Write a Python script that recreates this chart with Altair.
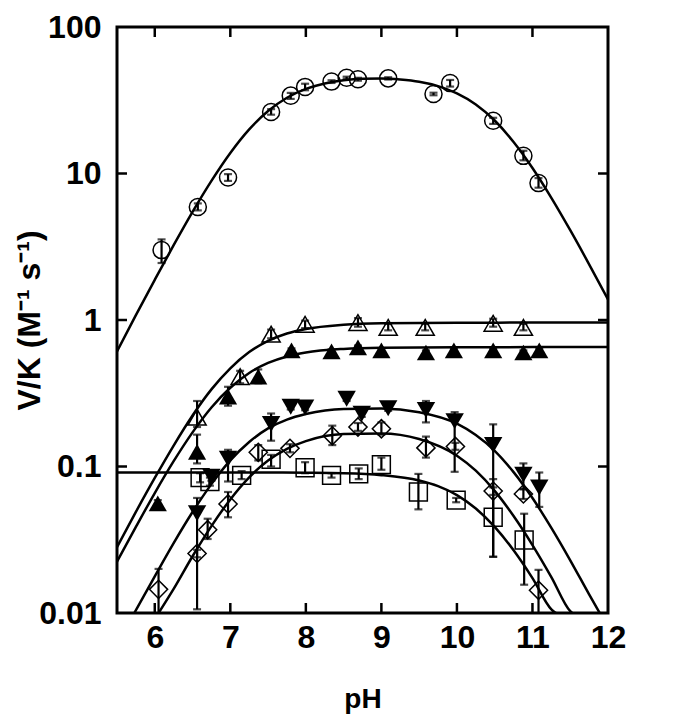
import altair as alt
import pandas as pd

# ---------------- data ----------------
# open circles
circ_ph = [6.09, 6.57, 6.97, 7.54, 7.80, 7.99, 8.34, 8.54, 8.69, 9.09, 9.69, 9.91, 10.48, 10.88, 11.08]
circ_v = [3.0, 5.9, 9.4, 26.3, 34.0, 39.0, 42.4, 45.0, 44.0, 44.6, 34.9, 41.4, 22.9, 13.2, 8.6]
circ_lo = [2.45, 5.6, 8.9, 25.2, 32.3, 37.0, 41.5, 44.2, 43.0, 43.8, 34.2, 39.2, 21.8, 12.3, 8.0]
circ_hi = [3.55, 6.25, 9.9, 27.5, 35.5, 41.0, 43.3, 45.8, 45.0, 45.4, 35.6, 43.5, 24.0, 14.3, 9.3]

# open triangles
otri_ph = [6.56, 7.13, 7.54, 7.99, 8.69, 9.09, 9.58, 10.48, 10.88]
otri_v = [0.217, 0.41, 0.80, 0.935, 0.96, 0.89, 0.89, 0.95, 0.89]
otri_lo = [0.186, 0.37, 0.75, 0.88, 0.90, 0.85, 0.85, 0.90, 0.85]
otri_hi = [0.28, 0.45, 0.86, 0.99, 1.03, 0.94, 0.94, 1.02, 0.94]

# filled triangles
ftri_ph = [6.04, 6.56, 6.97, 7.37, 7.81, 8.34, 8.69, 9.0, 9.59, 9.96, 10.48, 10.88, 11.09]
ftri_v = [0.056, 0.126, 0.30, 0.41, 0.62, 0.61, 0.65, 0.62, 0.60, 0.62, 0.62, 0.60, 0.62]
ftri_lo = [0.053, 0.105, 0.26, 0.37, 0.60, 0.59, 0.63, 0.60, 0.58, 0.60, 0.60, 0.58, 0.60]
ftri_hi = [0.059, 0.165, 0.35, 0.46, 0.64, 0.63, 0.67, 0.64, 0.62, 0.64, 0.64, 0.62, 0.64]

# filled down triangles
dtri_ph = [6.56, 6.75, 6.97, 7.54, 7.80, 7.99, 8.54, 8.74, 9.09, 9.59, 9.97, 10.48, 10.88, 11.09]
dtri_v = [0.048, 0.085, 0.113, 0.195, 0.256, 0.253, 0.29, 0.229, 0.25, 0.243, 0.204, 0.14, 0.088, 0.072]
dtri_lo = [0.0106, 0.08, 0.079, 0.15, 0.245, 0.242, 0.28, 0.218, 0.24, 0.20, 0.092, 0.0242, 0.07, 0.053]
dtri_hi = [0.061, 0.09, 0.13, 0.23, 0.267, 0.264, 0.30, 0.24, 0.26, 0.28, 0.235, 0.194, 0.105, 0.091]

# open diamonds
diam_ph = [6.05, 6.56, 6.70, 6.97, 7.37, 7.79, 8.35, 8.69, 9.0, 9.59, 9.98, 10.48, 10.88, 11.08]
diam_v = [0.0145, 0.0255, 0.037, 0.0555, 0.125, 0.133, 0.162, 0.186, 0.181, 0.134, 0.137, 0.068, 0.065, 0.0143]
diam_lo = [0.0099, 0.024, 0.032, 0.045, 0.11, 0.125, 0.14, 0.175, 0.165, 0.115, 0.13, 0.064, 0.06, 0.0099]
diam_hi = [0.020, 0.027, 0.044, 0.067, 0.14, 0.142, 0.19, 0.198, 0.20, 0.16, 0.145, 0.072, 0.07, 0.0197]

# open squares
sq_ph = [6.60, 6.73, 7.15, 7.54, 7.99, 8.34, 8.70, 9.0, 9.49, 9.99, 10.48, 10.89]
sq_v = [0.084, 0.079, 0.087, 0.112, 0.098, 0.087, 0.089, 0.103, 0.067, 0.059, 0.045, 0.0315]
sq_lo = [0.078, 0.074, 0.082, 0.10, 0.09, 0.084, 0.082, 0.095, 0.051, 0.057, 0.0242, 0.0156]
sq_hi = [0.09, 0.084, 0.093, 0.12, 0.107, 0.09, 0.097, 0.115, 0.089, 0.061, 0.082, 0.0476]

# fitted curves
c_circ_ph = [5.5, 5.75, 6.0, 6.25, 6.5, 6.75, 7.0, 7.25, 7.5, 7.75, 8.0, 8.25, 8.5, 8.75,
             9.0, 9.25, 9.5, 9.75, 10.0, 10.25, 10.5, 10.75, 11.0, 11.25, 11.5, 11.75, 12.0]
c_circ_v = [0.611, 1.08, 1.88, 3.24, 5.47, 8.9, 13.8, 20.0, 26.7, 32.9, 37.8, 41.2, 43.3, 44.3,
            44.5, 43.8, 42.3, 39.5, 35.2, 29.6, 23.0, 16.4, 10.9, 6.82, 4.10, 2.40, 1.38]

c_otri_ph = [5.5, 5.75, 6.0, 6.25, 6.5, 6.75, 7.0, 7.25, 7.5, 7.75, 8.0, 8.5, 9.0, 10.0, 11.0, 12.0]
c_otri_v = [0.0282, 0.049, 0.0835, 0.139, 0.223, 0.336, 0.468, 0.604, 0.721, 0.809, 0.869, 0.929, 0.95, 0.958, 0.96, 0.96]

c_ftri_ph = [5.5, 5.75, 6.0, 6.25, 6.5, 6.75, 7.0, 7.25, 7.5, 7.75, 8.0, 8.5, 9.0, 10.0, 11.0, 12.0]
c_ftri_v = [0.0224, 0.0387, 0.0659, 0.1087, 0.171, 0.253, 0.345, 0.435, 0.509, 0.564, 0.60, 0.635, 0.647, 0.652, 0.653, 0.653]

c_dtri_ph = [5.72, 6.0, 6.25, 6.5, 6.75, 7.0, 7.25, 7.5, 7.75, 8.0, 8.5, 9.0, 9.5, 10.0,
             10.25, 10.5, 10.75, 11.0, 11.25, 11.5, 11.75, 11.9]
c_dtri_v = [0.0098, 0.0178, 0.030, 0.0489, 0.0758, 0.110, 0.147, 0.182, 0.209, 0.228, 0.247, 0.2485, 0.2347, 0.196,
            0.164, 0.128, 0.0915, 0.0609, 0.0381, 0.0229, 0.0134, 0.0098]

c_diam_ph = [6.04, 6.25, 6.5, 6.75, 7.0, 7.25, 7.5, 7.75, 8.0, 8.5, 9.0, 9.5, 10.0, 10.25,
             10.5, 10.75, 11.0, 11.25, 11.5, 11.56]
c_diam_v = [0.0098, 0.0146, 0.0244, 0.0392, 0.0596, 0.0843, 0.1098, 0.132, 0.149, 0.1665, 0.168, 0.154, 0.1185, 0.0936,
            0.0682, 0.0459, 0.0291, 0.0176, 0.0103, 0.0097]

c_sq_ph = [5.5, 6.5, 7.5, 8.0, 8.5, 9.0, 9.5, 9.75, 10.0, 10.25, 10.5, 10.75, 11.0, 11.25, 11.35]
c_sq_v = [0.091, 0.091, 0.0909, 0.0906, 0.0899, 0.0873, 0.0802, 0.0734, 0.0638, 0.0517, 0.0387, 0.0268, 0.0173, 0.0106, 0.0097]

x_ticks = [6, 7, 8, 9, 10, 11, 12]
x_inner_ticks = [6, 7, 8, 9, 10, 11]
y_ticks = [0.01, 0.1, 1, 10, 100]
y_inner_ticks = [0.1, 1, 10]

# ---------------- build tables ----------------
def pts(ph, v, lo, hi, name):
    return pd.DataFrame({"ph": ph, "v": v, "lo": lo, "hi": hi, "s": name})

circ = pts(circ_ph, circ_v, circ_lo, circ_hi, "circ")
otri = pts(otri_ph, otri_v, otri_lo, otri_hi, "otri")
ftri = pts(ftri_ph, ftri_v, ftri_lo, ftri_hi, "ftri")
dtri = pts(dtri_ph, dtri_v, dtri_lo, dtri_hi, "dtri")
diam = pts(diam_ph, diam_v, diam_lo, diam_hi, "diam")
sq = pts(sq_ph, sq_v, sq_lo, sq_hi, "sq")
allpts = pd.concat([circ, otri, ftri, dtri, diam, sq], ignore_index=True)

curves = pd.concat([
    pd.DataFrame({"ph": c_circ_ph, "v": c_circ_v, "c": "circ"}),
    pd.DataFrame({"ph": c_otri_ph, "v": c_otri_v, "c": "otri"}),
    pd.DataFrame({"ph": c_ftri_ph, "v": c_ftri_v, "c": "ftri"}),
    pd.DataFrame({"ph": c_dtri_ph, "v": c_dtri_v, "c": "dtri"}),
    pd.DataFrame({"ph": c_diam_ph, "v": c_diam_v, "c": "diam"}),
    pd.DataFrame({"ph": c_sq_ph, "v": c_sq_v, "c": "sq"}),
], ignore_index=True)

W, H = 491, 586
FONT = "Liberation Sans"
TK = 10  # tick length

xs = alt.Scale(domain=[5.5, 12], nice=False, zero=False)
ys = alt.Scale(type="log", domain=[0.01, 100], nice=False)

x_axis = alt.Axis(title="pH", values=x_ticks, format="d", ticks=False, domain=False, grid=False,
                  labelFont=FONT, labelFontSize=32, labelFontWeight="bold", labelPadding=9,
                  labelColor="black", titleFont=FONT, titleFontSize=28, titleFontWeight="bold",
                  titleY=72, titleBaseline="top", titleColor="black", labelFlush=False)
y_axis = alt.Axis(title="V/K (M⁻¹ s⁻¹)", values=y_ticks, format="~g", ticks=False, domain=False, grid=False,
                  labelFont=FONT, labelFontSize=32, labelFontWeight="bold", labelPadding=16,
                  labelColor="black", titleFont=FONT, titleFontSize=32, titleFontWeight="bold",
                  titleX=-78, titleBaseline="alphabetic", titleColor="black", labelFlush=False)


def X(field):
    return alt.X(field, scale=xs, axis=x_axis)


def Y(field):
    return alt.Y(field, scale=ys, axis=y_axis)


lines = alt.Chart(curves).mark_line(color="black", strokeWidth=2.5, interpolate="monotone", clip=True).encode(
    x=X("ph:Q"), y=Y("v:Q"), detail="c:N",
)

bars = alt.Chart(allpts).mark_rule(color="black", strokeWidth=2.2, clip=True).encode(
    x=X("ph:Q"), y=Y("lo:Q"), y2="hi:Q",
)
cap_lo = alt.Chart(allpts).mark_tick(color="black", orient="horizontal", size=8, thickness=2.2, clip=True).encode(
    x=X("ph:Q"), y=Y("lo:Q"),
)
cap_hi = alt.Chart(allpts).mark_tick(color="black", orient="horizontal", size=8, thickness=2.2, clip=True).encode(
    x=X("ph:Q"), y=Y("hi:Q"),
)


def sym(df, shape, filled, size):
    if filled:
        m = alt.Chart(df).mark_point(shape=shape, filled=True, color="black", size=size, opacity=1)
    else:
        m = alt.Chart(df).mark_point(shape=shape, filled=False, color="black", strokeWidth=1.5,
                                     size=size, opacity=1)
    return m.encode(x=X("ph:Q"), y=Y("v:Q"))


marks = [
    sym(circ, "circle", False, 290),
    sym(otri, "triangle-up", False, 330),
    sym(ftri, "triangle-up", True, 330),
    sym(dtri, "triangle-down", True, 340),
    sym(diam, "diamond", False, 330),
    sym(sq, "square", False, 320),
]

xt = pd.DataFrame({"t": x_inner_ticks})
yt = pd.DataFrame({"t": y_inner_ticks})
tick_b = alt.Chart(xt).mark_rule(color="black", strokeWidth=2.5).encode(
    x=X("t:Q"), y=alt.value(H), y2=alt.value(H - TK))
tick_t = alt.Chart(xt).mark_rule(color="black", strokeWidth=2.5).encode(
    x=X("t:Q"), y=alt.value(0), y2=alt.value(TK))
tick_l = alt.Chart(yt).mark_rule(color="black", strokeWidth=2.5).encode(
    y=Y("t:Q"), x=alt.value(0), x2=alt.value(TK))
tick_r = alt.Chart(yt).mark_rule(color="black", strokeWidth=2.5).encode(
    y=Y("t:Q"), x=alt.value(W - TK), x2=alt.value(W))

chart = alt.layer(lines, bars, cap_lo, cap_hi, *marks, tick_b, tick_t, tick_l, tick_r).properties(
    width=W, height=H,
    autosize=alt.AutoSizeParams(type="none"),
    padding={"left": 109, "top": 19, "right": 20, "bottom": 130},
    background="white",
).configure_view(stroke="black", strokeWidth=3)

chart.save("out.html", embed_options={"renderer": "svg", "actions": False})
